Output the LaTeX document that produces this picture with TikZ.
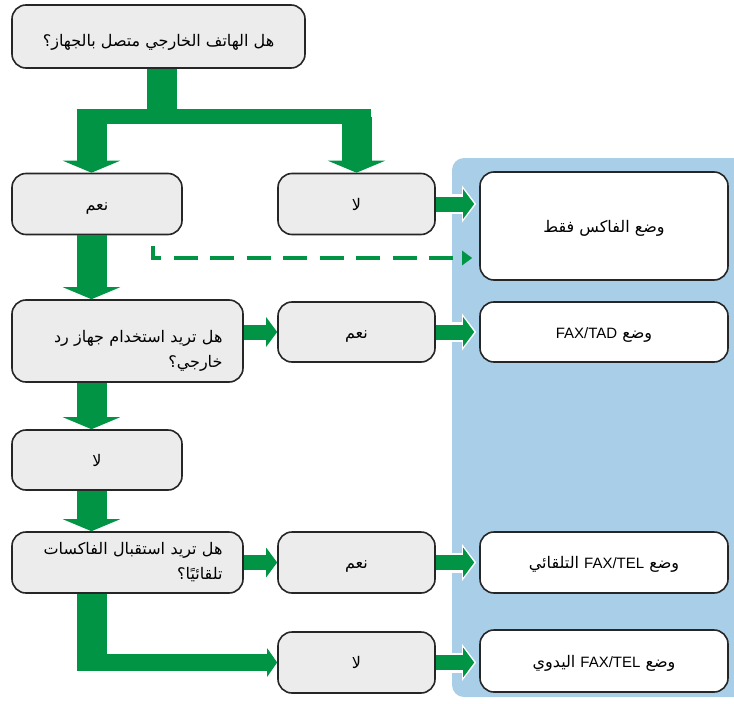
\documentclass[tikz,border=0pt]{standalone}
\usepackage{fontspec}
\setmainfont{Liberation Sans}
\newfontfamily\arabicfont[Script=Arabic]{DejaVu Sans}
\TeXXeTstate=1
\usetikzlibrary{arrows.meta, calc}
\definecolor{flowgreen}{RGB}{0,148,68}
\definecolor{panelblue}{RGB}{168,206,232}
\definecolor{boxgray}{RGB}{236,236,236}
\newcommand{\artxt}[1]{\beginR #1\endR}
\newcommand{\lattxt}[1]{{\rmfamily\fontsize{15pt}{24pt}\selectfont\beginL #1\endL}}

\begin{document}
\begin{tikzpicture}[
    x=1pt, y=-1pt,
    qbox/.style={draw=black!85, line width=1.6pt, rounded corners=14pt, fill=boxgray, inner sep=0pt, align=center, font=\arabicfont\fontsize{16pt}{25pt}\selectfont},
    oneline/.style={text height=14pt, text depth=2pt},
    leftbox/.style={qbox, oneline, minimum width=170pt, minimum height=61pt},
    midbox/.style={qbox, oneline, minimum width=157pt, minimum height=61pt},
    modebox/.style={qbox, oneline, fill=white, minimum width=248pt, minimum height=61pt},
    trunk/.style={draw=flowgreen, line width=30pt},
    trunkarrow/.style={trunk, -{Triangle[width=57pt,length=12pt]}},
    bar/.style={draw=flowgreen, line width=15pt},
    link/.style={draw=flowgreen, line width=15pt, -{Triangle[width=29pt,length=11pt]}},
    outlink/.style={link, shorten >=5pt, preaction={draw=white, line width=20pt, shorten >=3pt, -{Triangle[width=36pt,length=14pt]}}},
    hint/.style={draw=flowgreen, line width=4.5pt, dash pattern=on 24pt off 12.5pt, dash phase=4pt, shorten >=7pt, -{Triangle[width=14pt,length=10pt]}}
]
\useasboundingbox (0,0) rectangle (734,704);

% Panel of modes
\fill[panelblue, rounded corners=12pt] (745,158) -- (452,158) -- (452,697) -- (745,697) -- cycle;

% Questions
\node[qbox, text height=20pt, text depth=1pt, minimum width=293pt, minimum height=63pt] (q1) at (158.5,36.5) {\artxt{هل الهاتف الخارجي متصل بالجهاز؟}};
\node[qbox, minimum width=231pt, minimum height=82pt, text width=190pt, align=right, text height=14pt, text depth=12pt] (q2) at (127.5,341) {\artxt{هل تريد استخدام جهاز رد}\\\artxt{خارجي؟}};
\node[qbox, minimum width=231pt, minimum height=61pt, text width=190pt, align=right] (q3) at (127.5,562.5) {\artxt{هل تريد استقبال الفاكسات}\\\artxt{تلقائيًا؟}};

% Answers
\node[leftbox] (yes1) at (97,204) {\artxt{نعم}};
\node[midbox] (no1) at (356.5,204) {\artxt{لا}};
\node[midbox, minimum height=60pt] (yes2) at (356.5,332) {\artxt{نعم}};
\node[leftbox, minimum height=60pt] (no2) at (97,460) {\artxt{لا}};
\node[midbox] (yes3) at (356.5,562.5) {\artxt{نعم}};
\node[midbox] (no3) at (356.5,662.5) {\artxt{لا}};

% Modes
\node[modebox, minimum height=108pt] (m1) at (604,226) {\artxt{وضع الفاكس فقط}};
\node[modebox, minimum height=60pt] (m2) at (604,332) {\artxt{وضع \lattxt{FAX/TAD}}};
\node[modebox] (m3) at (604,562.5) {\artxt{وضع \lattxt{FAX/TEL} التلقائي}};
\node[modebox, minimum height=62pt] (m4) at (604,661) {\artxt{وضع \lattxt{FAX/TEL} اليدوي}};

% Split under the first question
\coordinate (split) at (162,116.5);
\coordinate (lx) at (91.5,0);
\draw[trunk] (q1.south -| split) -- (split);
\draw[bar] ($(lx |- split)+(-15,0)$) -- ($(no1.north |- split)+(14,0)$);
\draw[trunkarrow] (lx |- split) -- (lx |- yes1.north);
\draw[trunkarrow] (no1.north |- split) -- (no1.north);

% Left column
\draw[trunkarrow] (yes1.south -| lx) -- (q2.north -| lx);
\draw[trunkarrow] (q2.south -| lx) -- (no2.north -| lx);
\draw[trunkarrow] (no2.south -| lx) -- (q3.north -| lx);
\draw[trunk] (q3.south -| lx) -- (lx |- no3.west);
\draw[draw=flowgreen, line width=17pt, -{Triangle[width=28pt,length=10pt]}] ($(lx |- no3.west)+(-15,0)$) -- (no3.west);

% Answers to answers
\draw[link] (yes2.west -| q2.east) -- (yes2.west);
\draw[link] (yes3.west -| q3.east) -- (yes3.west);

% Into the modes
\draw[outlink] (no1.east) -- (no1.east -| m1.west);
\draw[outlink] (yes2.east) -- (yes2.east -| m2.west);
\draw[outlink] (yes3.east) -- (yes3.east -| m3.west);
\draw[outlink] (no3.east) -- (no3.east -| m4.west);

% Dashed hint
\coordinate (dstart) at (153,246);
\coordinate (dcorner) at (153,258);
\draw[hint] (dstart) -- (dcorner) -- (dcorner -| m1.west);

\end{tikzpicture}
\end{document}
